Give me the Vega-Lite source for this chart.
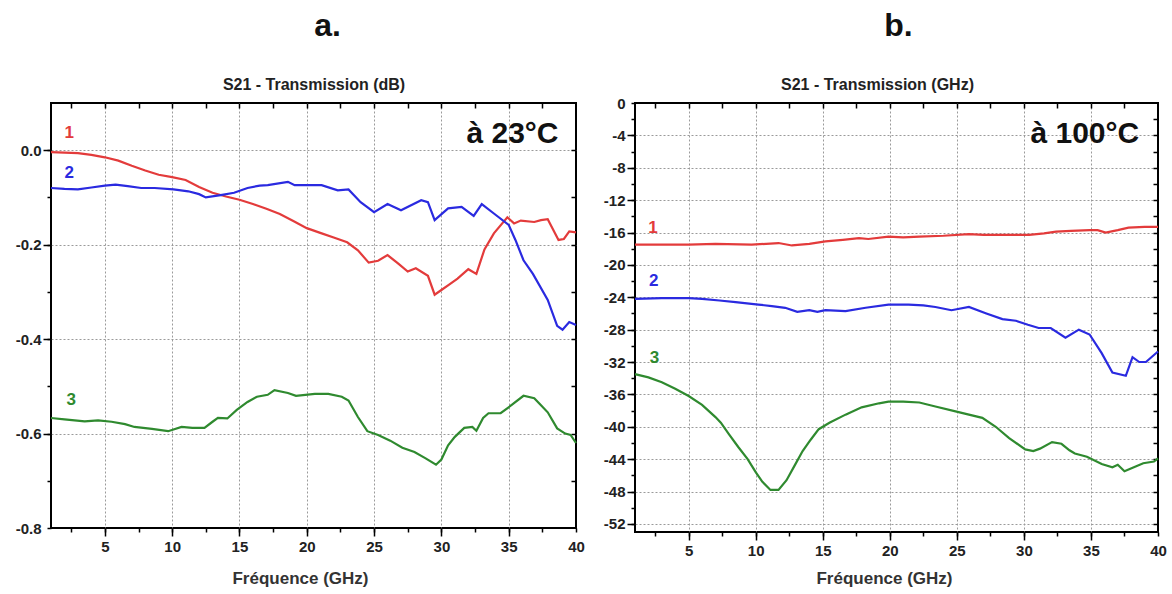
{
  "$schema": "https://vega.github.io/schema/vega-lite/v6.json",
  "background": "white",
  "padding": {"left": 14, "top": 9, "right": 10, "bottom": 4},
  "spacing": 16,
  "config": {
    "font": "Liberation Sans",
    "view": {"stroke": "#000000", "strokeWidth": 2},
    "axis": {
      "domain": false,
      "grid": false,
      "labelFont": "Liberation Sans",
      "labelFontWeight": "bold",
      "labelFontSize": 15,
      "labelColor": "#222222",
      "labelFlush": false,
      "labelOverlap": false,
      "tickColor": "#000000",
      "tickWidth": 1.5,
      "gridColor": "#9a9a9a",
      "gridDash": [2, 2],
      "gridWidth": 1,
      "titleFont": "Liberation Sans",
      "titleFontWeight": "bold",
      "titleFontSize": 17,
      "titleColor": "#333333"
    },
    "title": {
      "font": "Liberation Sans",
      "fontSize": 32,
      "fontWeight": "bold",
      "color": "#111111",
      "anchor": "middle",
      "offset": 33
    },
    "text": {"font": "Liberation Sans"}
  },
  "datasets": {
    "a_lines": [
      {"s": "1", "f": 1, "v": -0.004}, {"s": "1", "f": 2, "v": -0.005}, {"s": "1", "f": 3, "v": -0.006}, {"s": "1", "f": 4, "v": -0.01},
      {"s": "1", "f": 5, "v": -0.015}, {"s": "1", "f": 6, "v": -0.022}, {"s": "1", "f": 7, "v": -0.033}, {"s": "1", "f": 8, "v": -0.043},
      {"s": "1", "f": 9, "v": -0.052}, {"s": "1", "f": 10, "v": -0.057}, {"s": "1", "f": 11, "v": -0.063}, {"s": "1", "f": 12, "v": -0.078},
      {"s": "1", "f": 13, "v": -0.09}, {"s": "1", "f": 14, "v": -0.098}, {"s": "1", "f": 15, "v": -0.105}, {"s": "1", "f": 16, "v": -0.114},
      {"s": "1", "f": 17, "v": -0.124}, {"s": "1", "f": 18, "v": -0.135}, {"s": "1", "f": 19, "v": -0.15}, {"s": "1", "f": 20, "v": -0.165},
      {"s": "1", "f": 21, "v": -0.175}, {"s": "1", "f": 22, "v": -0.185}, {"s": "1", "f": 23, "v": -0.195}, {"s": "1", "f": 23.8, "v": -0.212},
      {"s": "1", "f": 24.6, "v": -0.238}, {"s": "1", "f": 25.3, "v": -0.234}, {"s": "1", "f": 26, "v": -0.222}, {"s": "1", "f": 26.8, "v": -0.24},
      {"s": "1", "f": 27.5, "v": -0.257}, {"s": "1", "f": 28.1, "v": -0.25}, {"s": "1", "f": 29, "v": -0.266}, {"s": "1", "f": 29.5, "v": -0.306},
      {"s": "1", "f": 30, "v": -0.296}, {"s": "1", "f": 30.6, "v": -0.284}, {"s": "1", "f": 31.2, "v": -0.272}, {"s": "1", "f": 32, "v": -0.252},
      {"s": "1", "f": 32.6, "v": -0.262}, {"s": "1", "f": 33.2, "v": -0.21}, {"s": "1", "f": 33.9, "v": -0.176}, {"s": "1", "f": 34.9, "v": -0.142},
      {"s": "1", "f": 35.4, "v": -0.155}, {"s": "1", "f": 35.9, "v": -0.149}, {"s": "1", "f": 36.9, "v": -0.152}, {"s": "1", "f": 37.4, "v": -0.148},
      {"s": "1", "f": 37.9, "v": -0.146}, {"s": "1", "f": 38.7, "v": -0.19}, {"s": "1", "f": 39.1, "v": -0.188}, {"s": "1", "f": 39.5, "v": -0.172},
      {"s": "1", "f": 40, "v": -0.174},
      {"s": "2", "f": 1, "v": -0.08}, {"s": "2", "f": 2, "v": -0.082}, {"s": "2", "f": 3, "v": -0.083}, {"s": "2", "f": 4, "v": -0.079},
      {"s": "2", "f": 5, "v": -0.075}, {"s": "2", "f": 5.8, "v": -0.073}, {"s": "2", "f": 6.7, "v": -0.076}, {"s": "2", "f": 7.7, "v": -0.08},
      {"s": "2", "f": 8.7, "v": -0.08}, {"s": "2", "f": 10.1, "v": -0.083}, {"s": "2", "f": 11.2, "v": -0.087}, {"s": "2", "f": 12, "v": -0.093},
      {"s": "2", "f": 12.5, "v": -0.1}, {"s": "2", "f": 13.6, "v": -0.095}, {"s": "2", "f": 14.6, "v": -0.09}, {"s": "2", "f": 15.6, "v": -0.08},
      {"s": "2", "f": 16.5, "v": -0.075}, {"s": "2", "f": 17.1, "v": -0.074}, {"s": "2", "f": 18.6, "v": -0.067}, {"s": "2", "f": 19.1, "v": -0.074},
      {"s": "2", "f": 21.1, "v": -0.074}, {"s": "2", "f": 22.3, "v": -0.085}, {"s": "2", "f": 23.1, "v": -0.083}, {"s": "2", "f": 24, "v": -0.11},
      {"s": "2", "f": 25, "v": -0.131}, {"s": "2", "f": 26, "v": -0.114}, {"s": "2", "f": 27, "v": -0.127}, {"s": "2", "f": 28.5, "v": -0.106},
      {"s": "2", "f": 29, "v": -0.11}, {"s": "2", "f": 29.5, "v": -0.148}, {"s": "2", "f": 30.5, "v": -0.123}, {"s": "2", "f": 31.5, "v": -0.12},
      {"s": "2", "f": 32.4, "v": -0.139}, {"s": "2", "f": 33, "v": -0.114}, {"s": "2", "f": 33.9, "v": -0.134}, {"s": "2", "f": 35, "v": -0.158},
      {"s": "2", "f": 35.5, "v": -0.19}, {"s": "2", "f": 36.1, "v": -0.233}, {"s": "2", "f": 36.8, "v": -0.262}, {"s": "2", "f": 37.9, "v": -0.317},
      {"s": "2", "f": 38.6, "v": -0.372}, {"s": "2", "f": 39, "v": -0.38}, {"s": "2", "f": 39.5, "v": -0.364}, {"s": "2", "f": 40, "v": -0.37},
      {"s": "3", "f": 1, "v": -0.567}, {"s": "3", "f": 2, "v": -0.57}, {"s": "3", "f": 3.5, "v": -0.574}, {"s": "3", "f": 4.5, "v": -0.572},
      {"s": "3", "f": 5.5, "v": -0.575}, {"s": "3", "f": 6.5, "v": -0.58}, {"s": "3", "f": 7.2, "v": -0.586}, {"s": "3", "f": 8.5, "v": -0.59},
      {"s": "3", "f": 9.7, "v": -0.595}, {"s": "3", "f": 10.7, "v": -0.586}, {"s": "3", "f": 11.5, "v": -0.588}, {"s": "3", "f": 12.4, "v": -0.588},
      {"s": "3", "f": 13, "v": -0.575}, {"s": "3", "f": 13.4, "v": -0.567}, {"s": "3", "f": 14.1, "v": -0.568}, {"s": "3", "f": 14.8, "v": -0.55},
      {"s": "3", "f": 15.6, "v": -0.533}, {"s": "3", "f": 16.3, "v": -0.522}, {"s": "3", "f": 17.1, "v": -0.518}, {"s": "3", "f": 17.6, "v": -0.508},
      {"s": "3", "f": 18.6, "v": -0.514}, {"s": "3", "f": 19.2, "v": -0.52}, {"s": "3", "f": 20.6, "v": -0.516}, {"s": "3", "f": 21.6, "v": -0.516},
      {"s": "3", "f": 22.6, "v": -0.522}, {"s": "3", "f": 23.1, "v": -0.53}, {"s": "3", "f": 23.8, "v": -0.565}, {"s": "3", "f": 24.5, "v": -0.595},
      {"s": "3", "f": 25.3, "v": -0.603}, {"s": "3", "f": 26.2, "v": -0.615}, {"s": "3", "f": 27.1, "v": -0.63}, {"s": "3", "f": 28, "v": -0.639},
      {"s": "3", "f": 28.8, "v": -0.652}, {"s": "3", "f": 29.6, "v": -0.666}, {"s": "3", "f": 30, "v": -0.655}, {"s": "3", "f": 30.5, "v": -0.625},
      {"s": "3", "f": 31, "v": -0.607}, {"s": "3", "f": 31.7, "v": -0.588}, {"s": "3", "f": 32.3, "v": -0.586}, {"s": "3", "f": 32.6, "v": -0.594},
      {"s": "3", "f": 33.1, "v": -0.567}, {"s": "3", "f": 33.5, "v": -0.557}, {"s": "3", "f": 34.4, "v": -0.557}, {"s": "3", "f": 35.2, "v": -0.54},
      {"s": "3", "f": 36.1, "v": -0.52}, {"s": "3", "f": 36.9, "v": -0.525}, {"s": "3", "f": 37.4, "v": -0.54}, {"s": "3", "f": 37.9, "v": -0.555},
      {"s": "3", "f": 38.6, "v": -0.589}, {"s": "3", "f": 39.2, "v": -0.6}, {"s": "3", "f": 39.6, "v": -0.603}, {"s": "3", "f": 40, "v": -0.62}
    ],
    "a_labels": [
      {"s": "1", "f": 2.35, "v": 0.036},
      {"s": "2", "f": 2.35, "v": -0.049},
      {"s": "3", "f": 2.5, "v": -0.529}
    ],
    "a_note": [{"f": 38.7, "v": 0.015, "t": "à 23°C"}],
    "b_lines": [
      {"s": "1", "f": 1, "v": -17.5}, {"s": "1", "f": 3, "v": -17.5}, {"s": "1", "f": 5, "v": -17.5}, {"s": "1", "f": 7, "v": -17.4},
      {"s": "1", "f": 9.7, "v": -17.5}, {"s": "1", "f": 11.7, "v": -17.3}, {"s": "1", "f": 12.7, "v": -17.6}, {"s": "1", "f": 14, "v": -17.4},
      {"s": "1", "f": 15.2, "v": -17.1}, {"s": "1", "f": 16.5, "v": -16.9}, {"s": "1", "f": 17.7, "v": -16.7}, {"s": "1", "f": 18.4, "v": -16.8},
      {"s": "1", "f": 19.9, "v": -16.5}, {"s": "1", "f": 21, "v": -16.6}, {"s": "1", "f": 22.2, "v": -16.5}, {"s": "1", "f": 24, "v": -16.4},
      {"s": "1", "f": 25.9, "v": -16.2}, {"s": "1", "f": 27, "v": -16.3}, {"s": "1", "f": 28.4, "v": -16.3}, {"s": "1", "f": 30.4, "v": -16.3},
      {"s": "1", "f": 31.5, "v": -16.1}, {"s": "1", "f": 32.4, "v": -15.9}, {"s": "1", "f": 33.5, "v": -15.8}, {"s": "1", "f": 34.9, "v": -15.7},
      {"s": "1", "f": 35.5, "v": -15.7}, {"s": "1", "f": 36.1, "v": -16.0}, {"s": "1", "f": 37, "v": -15.7}, {"s": "1", "f": 37.8, "v": -15.4},
      {"s": "1", "f": 39, "v": -15.3}, {"s": "1", "f": 40, "v": -15.3},
      {"s": "2", "f": 1, "v": -24.2}, {"s": "2", "f": 3, "v": -24.1}, {"s": "2", "f": 5, "v": -24.1}, {"s": "2", "f": 6, "v": -24.2},
      {"s": "2", "f": 7.3, "v": -24.4}, {"s": "2", "f": 8.5, "v": -24.6}, {"s": "2", "f": 10.2, "v": -24.9}, {"s": "2", "f": 11.2, "v": -25.1},
      {"s": "2", "f": 12.2, "v": -25.3}, {"s": "2", "f": 13.1, "v": -25.8}, {"s": "2", "f": 14, "v": -25.6}, {"s": "2", "f": 14.6, "v": -25.8},
      {"s": "2", "f": 15.2, "v": -25.6}, {"s": "2", "f": 16.7, "v": -25.7}, {"s": "2", "f": 18.2, "v": -25.3}, {"s": "2", "f": 19.9, "v": -24.9},
      {"s": "2", "f": 21.4, "v": -24.9}, {"s": "2", "f": 22.5, "v": -25.0}, {"s": "2", "f": 23.4, "v": -25.2}, {"s": "2", "f": 24.6, "v": -25.6},
      {"s": "2", "f": 25.9, "v": -25.2}, {"s": "2", "f": 27.2, "v": -26.0}, {"s": "2", "f": 28.4, "v": -26.7}, {"s": "2", "f": 29.4, "v": -26.9},
      {"s": "2", "f": 30.3, "v": -27.4}, {"s": "2", "f": 31.1, "v": -27.8}, {"s": "2", "f": 32, "v": -27.8}, {"s": "2", "f": 33.1, "v": -29.0},
      {"s": "2", "f": 34.1, "v": -28.0}, {"s": "2", "f": 34.9, "v": -28.6}, {"s": "2", "f": 35.8, "v": -30.9}, {"s": "2", "f": 36.6, "v": -33.3},
      {"s": "2", "f": 37.6, "v": -33.7}, {"s": "2", "f": 38.1, "v": -31.4}, {"s": "2", "f": 38.6, "v": -32.0}, {"s": "2", "f": 39.1, "v": -32.0},
      {"s": "2", "f": 40, "v": -30.7},
      {"s": "3", "f": 1, "v": -33.5}, {"s": "3", "f": 2, "v": -33.9}, {"s": "3", "f": 3, "v": -34.5}, {"s": "3", "f": 4, "v": -35.3},
      {"s": "3", "f": 5, "v": -36.2}, {"s": "3", "f": 6, "v": -37.3}, {"s": "3", "f": 7, "v": -38.8}, {"s": "3", "f": 7.4, "v": -39.5},
      {"s": "3", "f": 8, "v": -40.9}, {"s": "3", "f": 8.7, "v": -42.5}, {"s": "3", "f": 9.4, "v": -44.0}, {"s": "3", "f": 10, "v": -45.6},
      {"s": "3", "f": 10.5, "v": -46.8}, {"s": "3", "f": 11.1, "v": -47.8}, {"s": "3", "f": 11.7, "v": -47.8}, {"s": "3", "f": 12.3, "v": -46.6},
      {"s": "3", "f": 12.9, "v": -44.8}, {"s": "3", "f": 13.5, "v": -43.0}, {"s": "3", "f": 14.1, "v": -41.6}, {"s": "3", "f": 14.7, "v": -40.3},
      {"s": "3", "f": 15.5, "v": -39.5}, {"s": "3", "f": 16.7, "v": -38.5}, {"s": "3", "f": 17.9, "v": -37.6}, {"s": "3", "f": 19.2, "v": -37.1},
      {"s": "3", "f": 19.9, "v": -36.9}, {"s": "3", "f": 21, "v": -36.9}, {"s": "3", "f": 22.2, "v": -37.0}, {"s": "3", "f": 23.4, "v": -37.5},
      {"s": "3", "f": 24.9, "v": -38.1}, {"s": "3", "f": 25.9, "v": -38.5}, {"s": "3", "f": 26.9, "v": -38.9}, {"s": "3", "f": 27.9, "v": -40.0},
      {"s": "3", "f": 28.9, "v": -41.4}, {"s": "3", "f": 30.1, "v": -42.8}, {"s": "3", "f": 30.7, "v": -43.0}, {"s": "3", "f": 31.2, "v": -42.7},
      {"s": "3", "f": 32.1, "v": -41.9}, {"s": "3", "f": 32.8, "v": -42.1}, {"s": "3", "f": 33.4, "v": -42.9}, {"s": "3", "f": 33.8, "v": -43.3},
      {"s": "3", "f": 34.7, "v": -43.7}, {"s": "3", "f": 35.8, "v": -44.6}, {"s": "3", "f": 36.6, "v": -45.0}, {"s": "3", "f": 37, "v": -44.7},
      {"s": "3", "f": 37.5, "v": -45.5}, {"s": "3", "f": 38.2, "v": -45.0}, {"s": "3", "f": 38.9, "v": -44.5}, {"s": "3", "f": 39.7, "v": -44.3},
      {"s": "3", "f": 40, "v": -43.9}
    ],
    "b_labels": [
      {"s": "1", "f": 2.35, "v": -15.4},
      {"s": "2", "f": 2.4, "v": -22.0},
      {"s": "3", "f": 2.45, "v": -31.5}
    ],
    "b_note": [{"f": 38.6, "v": -4.94, "t": "à 100°C"}]
  },
  "hconcat": [
    {
      "width": 525,
      "height": 425,
      "title": {"text": "a.", "dx": 14},
      "resolve": {"axis": {"x": "independent", "y": "independent"}},
      "layer": [
        {
          "data": {"name": "a_lines"},
          "mark": {"type": "line", "strokeWidth": 2.2},
          "encoding": {
            "x": {
              "field": "f", "type": "quantitative",
              "scale": {"domain": [1, 40], "nice": false, "zero": false},
              "axis": {
                "orient": "bottom",
                "values": [2.5, 5, 7.5, 10, 12.5, 15, 17.5, 20, 22.5, 25, 27.5, 30, 32.5, 35, 37.5, 40],
                "tickSize": 4, "labelPadding": 7,
                "labelExpr": "datum.value % 5 === 0 ? format(datum.value, 'd') : ''",
                "title": "Fréquence (GHz)", "titlePadding": 16, "titleX": 249
              }
            },
            "y": {
              "field": "v", "type": "quantitative",
              "scale": {"domain": [-0.8, 0.1], "nice": false, "zero": false},
              "axis": {
                "orient": "left",
                "values": [-0.8, -0.7, -0.6, -0.5, -0.4, -0.3, -0.2, -0.1, 0],
                "tickSize": 4, "labelPadding": 6,
                "labelExpr": "abs(round(datum.value * 10)) % 2 === 0 ? replace(format(datum.value, '.1f'), '−', '-') : ''",
                "title": null
              }
            },
            "color": {
              "field": "s", "type": "nominal",
              "scale": {"domain": ["1", "2", "3"], "range": ["#e33b3b", "#2a2ae0", "#2f8a2f"]},
              "legend": null
            }
          }
        },
        {
          "data": {"name": "a_labels"},
          "mark": {"type": "text", "fontSize": 17, "fontWeight": "bold", "align": "center", "baseline": "middle"},
          "encoding": {
            "x": {
              "field": "f", "type": "quantitative",
              "axis": {
                "orient": "top",
                "values": [2.5, 5, 7.5, 10, 12.5, 15, 17.5, 20, 22.5, 25, 27.5, 30, 32.5, 35, 37.5],
                "tickSize": -5, "labels": false,
                "title": "S21 - Transmission (dB)", "titleFontSize": 16, "titleColor": "#222222", "titlePadding": 10
              }
            },
            "y": {
              "field": "v", "type": "quantitative",
              "axis": {
                "orient": "right",
                "values": [-0.7, -0.6, -0.5, -0.4, -0.3, -0.2, -0.1, 0],
                "tickSize": -5, "labels": false, "title": null
              }
            },
            "text": {"field": "s"},
            "color": {"field": "s", "type": "nominal", "legend": null}
          }
        },
        {
          "data": {"name": "a_note"},
          "mark": {"type": "text", "fontSize": 30, "fontWeight": "bold", "align": "right", "baseline": "alphabetic", "color": "#111111"},
          "encoding": {
            "x": {
              "field": "f", "type": "quantitative",
              "axis": {
                "orient": "bottom",
                "values": [5, 10, 15, 20, 25, 30, 35],
                "grid": true, "tickSize": 8, "labels": false, "title": null
              }
            },
            "y": {
              "field": "v", "type": "quantitative",
              "axis": {
                "orient": "left",
                "values": [-0.6, -0.4, -0.2, 0],
                "grid": true, "tickSize": 8, "labels": false, "title": null
              }
            },
            "text": {"field": "t"}
          }
        }
      ]
    },
    {
      "width": 523,
      "height": 429,
      "title": {"text": "b.", "dx": 2},
      "resolve": {"axis": {"x": "independent", "y": "independent"}},
      "layer": [
        {
          "data": {"name": "b_lines"},
          "mark": {"type": "line", "strokeWidth": 2.2},
          "encoding": {
            "x": {
              "field": "f", "type": "quantitative",
              "scale": {"domain": [1, 40], "nice": false, "zero": false},
              "axis": {
                "orient": "bottom",
                "values": [2.5, 5, 7.5, 10, 12.5, 15, 17.5, 20, 22.5, 25, 27.5, 30, 32.5, 35, 37.5, 40],
                "tickSize": 4, "labelPadding": 7,
                "labelExpr": "datum.value % 5 === 0 ? format(datum.value, 'd') : ''",
                "title": "Fréquence (GHz)", "titlePadding": 12, "titleX": 249
              }
            },
            "y": {
              "field": "v", "type": "quantitative",
              "scale": {"domain": [-53, 0], "nice": false, "zero": false},
              "axis": {
                "orient": "left",
                "values": [-52, -50, -48, -46, -44, -42, -40, -38, -36, -34, -32, -30, -28, -26, -24, -22, -20, -18, -16, -14, -12, -10, -8, -6, -4, -2, 0],
                "tickSize": 4, "labelPadding": 6,
                "labelExpr": "datum.value % 4 === 0 ? replace(format(datum.value, 'd'), '−', '-') : ''",
                "title": null
              }
            },
            "color": {
              "field": "s", "type": "nominal",
              "scale": {"domain": ["1", "2", "3"], "range": ["#e33b3b", "#2a2ae0", "#2f8a2f"]},
              "legend": null
            }
          }
        },
        {
          "data": {"name": "b_labels"},
          "mark": {"type": "text", "fontSize": 17, "fontWeight": "bold", "align": "center", "baseline": "middle"},
          "encoding": {
            "x": {
              "field": "f", "type": "quantitative",
              "axis": {
                "orient": "top",
                "values": [2.5, 5, 7.5, 10, 12.5, 15, 17.5, 20, 22.5, 25, 27.5, 30, 32.5, 35, 37.5],
                "tickSize": -5, "labels": false,
                "title": "S21 - Transmission (GHz)", "titleFontSize": 16, "titleColor": "#222222", "titlePadding": 10, "titleX": 242
              }
            },
            "y": {
              "field": "v", "type": "quantitative",
              "axis": {
                "orient": "right",
                "values": [-52, -50, -48, -46, -44, -42, -40, -38, -36, -34, -32, -30, -28, -26, -24, -22, -20, -18, -16, -14, -12, -10, -8, -6, -4, -2],
                "tickSize": -5, "labels": false, "title": null
              }
            },
            "text": {"field": "s"},
            "color": {"field": "s", "type": "nominal", "legend": null}
          }
        },
        {
          "data": {"name": "b_note"},
          "mark": {"type": "text", "fontSize": 30, "fontWeight": "bold", "align": "right", "baseline": "alphabetic", "color": "#111111"},
          "encoding": {
            "x": {
              "field": "f", "type": "quantitative",
              "axis": {
                "orient": "bottom",
                "values": [5, 10, 15, 20, 25, 30, 35],
                "grid": true, "tickSize": 8, "labels": false, "title": null
              }
            },
            "y": {
              "field": "v", "type": "quantitative",
              "axis": {
                "orient": "left",
                "values": [-52, -48, -44, -40, -36, -32, -28, -24, -20, -16, -12, -8, -4],
                "grid": true, "tickSize": 8, "labels": false, "title": null
              }
            },
            "text": {"field": "t"}
          }
        }
      ]
    }
  ]
}
